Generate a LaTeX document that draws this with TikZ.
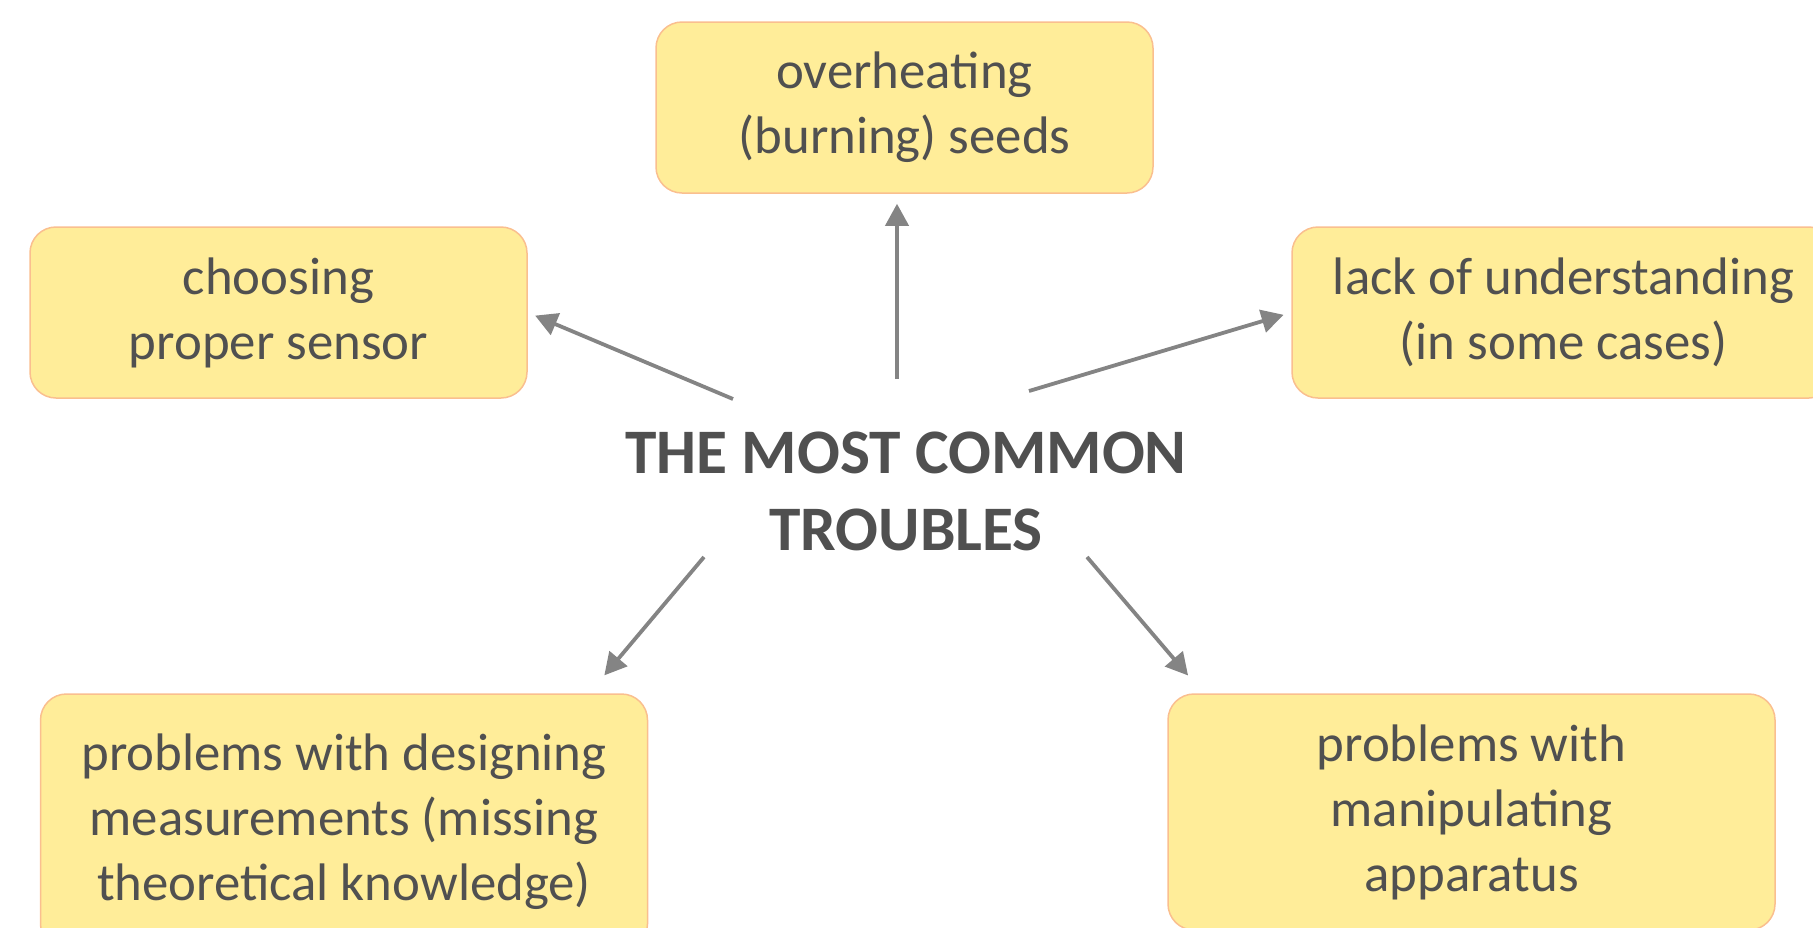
\documentclass[tikz,border=0pt]{standalone}
\usepackage{fontspec}
\setmainfont{Carlito}
\usetikzlibrary{arrows.meta}
\definecolor{txtgray}{HTML}{505050}
\definecolor{boxfill}{HTML}{FFED99}
\definecolor{boxline}{HTML}{FABF8F}
\definecolor{arrgray}{HTML}{848484}

\begin{document}
\begin{tikzpicture}[x=0.5pt,y=-0.5pt,
  trouble/.style={draw=boxline, fill=boxfill, line width=0.75pt, rounded corners=13pt,
    inner sep=0pt, align=center, text=txtgray,
    font=\fontsize{26.4}{32.5}\selectfont},
  arr/.style={draw=arrgray, line width=1.9pt, -{Triangle[length=11pt,width=11.5pt]}}]
 \clip (0,0) rectangle (1813,927);
 \node[inner sep=0pt, align=center, text=txtgray,
   font=\fontsize{31.7}{38.5}\selectfont\bfseries] (title) at (906,491)
   {THE MOST COMMON\\TROUBLES};

 \node[trouble, minimum width=248.5pt, minimum height=85.5pt] (seeds) at (904.5,107.5)
   {overheating\\(burning) seeds};
 \node[trouble, minimum width=248.5pt, minimum height=85.5pt] (sensor) at (278.5,312.5)
   {choosing\\proper sensor};
 \node[trouble, minimum width=271.5pt, minimum height=85.5pt] (underst) at (1563.5,312.5)
   {lack of understanding\\(in some cases)};
 \node[trouble, minimum width=303.5pt, minimum height=128pt] (design) at (344,822)
   {problems with designing\\measurements (missing\\theoretical knowledge)};
 \node[trouble, minimum width=303.5pt, minimum height=118pt] (manip) at (1471.5,812)
   {problems with\\manipulating\\apparatus};

 \coordinate (fromtop) at (897,379);
 \coordinate (fromleft) at (733,399);
 \coordinate (fromright) at (1029,391);
 \coordinate (fromdl) at (704,557);
 \coordinate (fromdr) at (1087,557);

 \draw[arr, shorten >=5pt] (fromtop) -- (fromtop |- seeds.south);
 \draw[arr, shorten >=4pt] (fromleft) -- (sensor.east);
 \draw[arr, shorten >=4pt] (fromright) -- (underst.west);
 \draw[arr, shorten >=11.7pt] (fromdl) -- ([xshift=-29.5pt]design.north east);
 \draw[arr, shorten >=11.7pt] (fromdr) -- ([xshift=18pt]manip.north west);
\end{tikzpicture}
\end{document}
